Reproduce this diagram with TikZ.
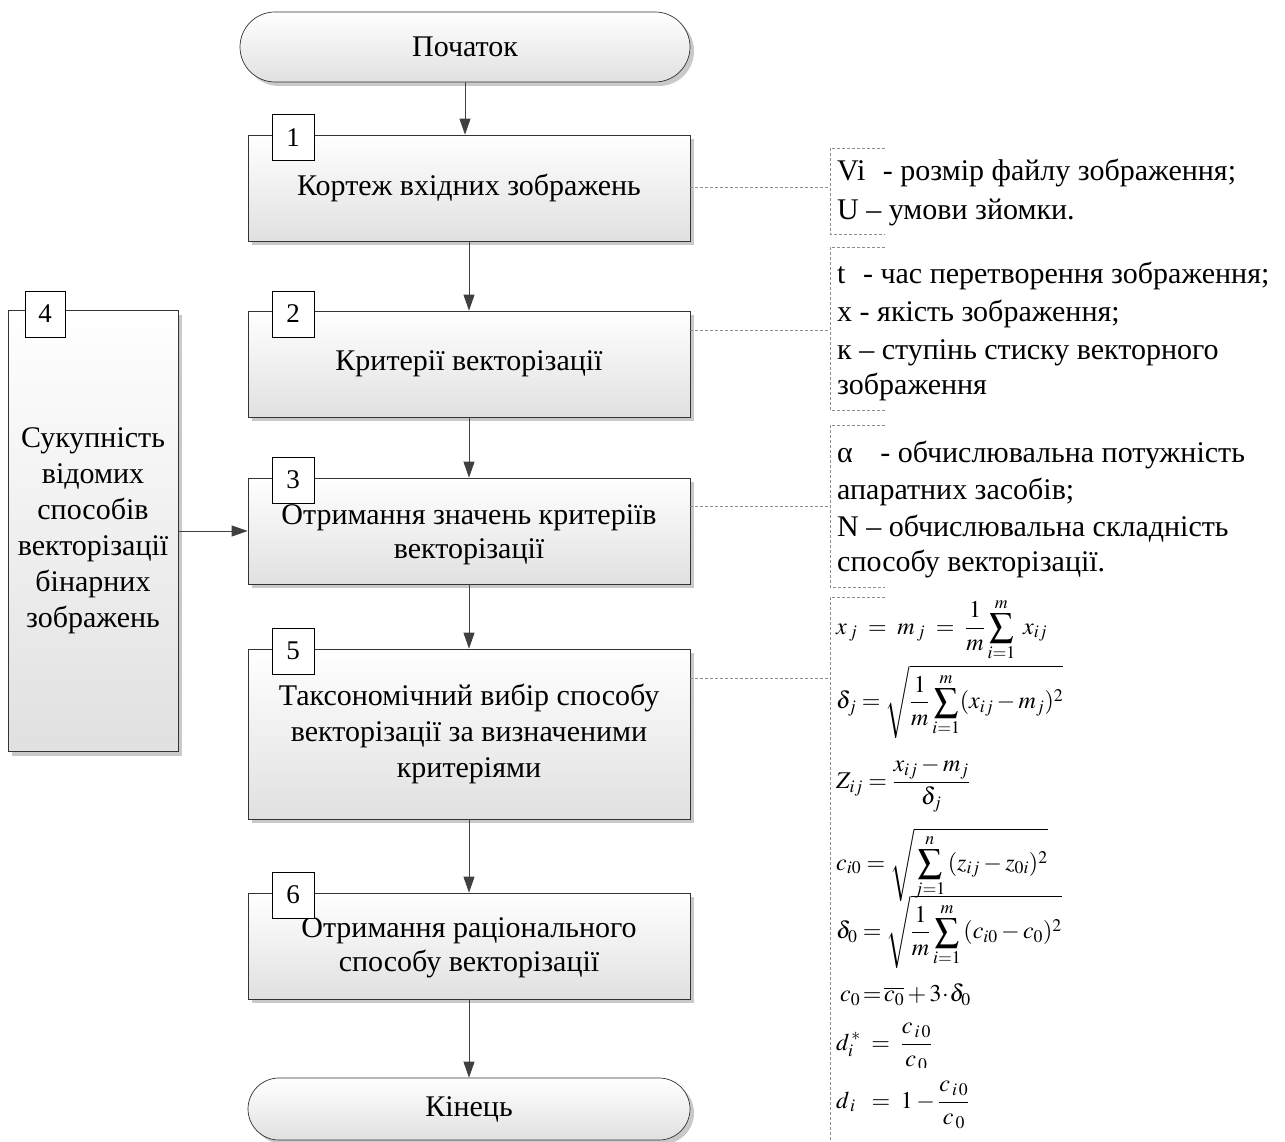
\documentclass[tikz,border=0pt]{standalone}
\usepackage{mathptmx}
\usepackage{fontspec}
\setmainfont{Liberation Serif}
\newfontfamily\tnr{Liberation Serif}
\usetikzlibrary{shadows,arrows.meta,calc}
\begin{document}
\begin{tikzpicture}[x=1pt,y=-1pt,
  proc/.style={draw=black!80, line width=0.7pt, top color=white, bottom color=black!12,
    drop shadow={shadow xshift=4pt, shadow yshift=-4pt, fill=black!30, opacity=0.7},
    align=center, inner sep=0pt, font=\tnr\fontsize{30}{36}\selectfont},
  term/.style={proc},
  boxtext/.style={align=center, inner sep=0pt, font=\tnr\fontsize{30}{34}\selectfont},
  tag/.style={draw=black, line width=1pt, fill=white, minimum width=42pt, minimum height=46pt, inner sep=0pt, font=\tnr\fontsize{27}{27}\selectfont},
  arr/.style={draw=black!75, line width=0.8pt, -{Triangle[length=16pt,width=11pt]}},
  note/.style={draw=black!45, dash pattern=on 3pt off 2pt, line width=0.6pt},
  anntext/.style={anchor=base west, inner sep=0pt, font=\tnr\fontsize{30}{30}\selectfont},
  fml/.style={anchor=west, inner sep=0pt, font=\fontsize{24}{28}\selectfont}
]
\useasboundingbox (0,0) rectangle (1285,1142);

% main flow
\node[term, rounded corners=35pt, minimum width=450pt, minimum height=70pt] (start) at (465,47) {Початок};
\node[proc, minimum width=442pt, minimum height=106pt] (b1) at (469,188) {Кортеж вхідних зображень};
\node[proc, minimum width=442pt, minimum height=106pt] (b2) at (469,364) {Критерії векторізації};
\node[proc, minimum width=442pt, minimum height=106pt] (b3) at (469,531) {};
\node[boxtext] (b3t) at (469,535) {Отримання значень критеріїв\\векторізації};
\node[proc, minimum width=170pt, minimum height=441pt] (b4) at (93,531) {Сукупність\\відомих\\способів\\векторізації\\бінарних\\зображень};
\node[proc, minimum width=442pt, minimum height=170pt] (b5) at (469,734) {Таксономічний вибір способу\\векторізації за визначеними\\критеріями};
\node[proc, minimum width=442pt, minimum height=106pt] (b6) at (469,946) {};
\node[boxtext] (b6t) at (469,948) {Отримання раціонального\\способу векторізації};
\node[term, rounded corners=31pt, minimum width=442pt, minimum height=62pt] (end) at (469,1109) {Кінець};

% tags
\node[tag] (t1) at (293,138) {1};
\node[tag] (t2) at (293,314) {2};
\node[tag] (t3) at (293,480) {3};
\node[tag, minimum width=40pt] (t4) at (45,314) {4};
\node[tag] (t5) at (293,651) {5};
\node[tag] (t6) at (293,895) {6};

% arrows
\draw[arr] (start.south) -- (start.south |- b1.north);
\draw[arr] (b1) -- (b2);
\draw[arr] (b2) -- (b3);
\draw[arr] (b3) -- (b5);
\draw[arr] (b5) -- (b6);
\draw[arr] (b6) -- (end);
\draw[arr] (b4.east |- b3.west) -- (b3.west);

% annotations
\coordinate (a1) at (830,187);
\coordinate (a2) at (830,330);
\coordinate (a3) at (830,506);
\coordinate (a4) at (830,678);
\draw[note] (b1.east |- a1) -- (a1);
\draw[note] (b2.east |- a2) -- (a2);
\draw[note] (b3.east |- a3) -- (a3);
\draw[note] (b5.east |- a4) -- (a4);
\draw[note] (885,148) -- (830,148) -- (830,234) -- (885,234);
\draw[note] (885,247) -- (830,247) -- (830,410) -- (885,410);
\draw[note] (885,425) -- (830,425) -- (830,587) -- (885,587);
\draw[note] (885,597) -- (830,597) -- (830,1142);

\node[anntext] (n11) at (837,181) {Vi\,\, - розмір файлу зображення;};
\node[anntext] (n12) at (837,219) {U – умови зйомки.};
\node[anntext] (n21) at (837,283) {t\,\, - час перетворення зображення;};
\node[anntext] (n22) at (837,321) {x - якість зображення;};
\node[anntext] (n23) at (837,359) {к – ступінь стиску векторного};
\node[anntext] (n24) at (837,394) {зображення};
\node[anntext] (n31) at (837,462) {α\,\,\,\, - обчислювальна потужність};
\node[anntext] (n32) at (837,499) {апаратних засобів;};
\node[anntext] (n33) at (837,536) {N – обчислювальна складність};
\node[anntext] (n34) at (837,571) {способу векторізації.};

% formulas
\node[fml] (f1) at (836,630) {$x_{\,j} \;=\; m_{\,j} \;=\; \displaystyle\frac{1}{m}\sum_{i=1}^{m}\; x_{ij}$};
\node[fml] (f2) at (836,702) {$\displaystyle \delta_{j} = \sqrt{\frac{1}{m}\sum_{i=1}^{m}(x_{ij}-m_{j})^{2}}$};
\node[fml] (f3) at (836,785) {$\displaystyle Z_{ij} = \frac{x_{ij}-m_{j}}{\delta_{j}}$};
\node[fml] (f4) at (836,865) {$\displaystyle c_{i0} = \sqrt{\sum_{j=1}^{n}\,(z_{ij}-z_{0i})^{2}}$};
\node[fml] (f5) at (836,932) {$\displaystyle \delta_{0} = \sqrt{\frac{1}{m}\sum_{i=1}^{m}\,(c_{i0}-c_{0})^{2}}$};
\node[fml] (f6) at (840,995) {$c_{0}\! =\! \overline{c_{0}} + 3\!\cdot\!\delta_{0}$};
\begin{scope}
\clip (832,1012) rectangle (1100,1067);
\node[fml] (f7) at (836,1047) {$\displaystyle d_{i}^{\,*} \;=\; \frac{c_{\,i\,0}}{c_{\,0}}$};
\end{scope}
\node[fml] (f8) at (836,1105) {$\displaystyle d_{\,i} \;\;=\; 1 - \frac{c_{\,i\,0}}{c_{\,0}}$};
\end{tikzpicture}
\end{document}
